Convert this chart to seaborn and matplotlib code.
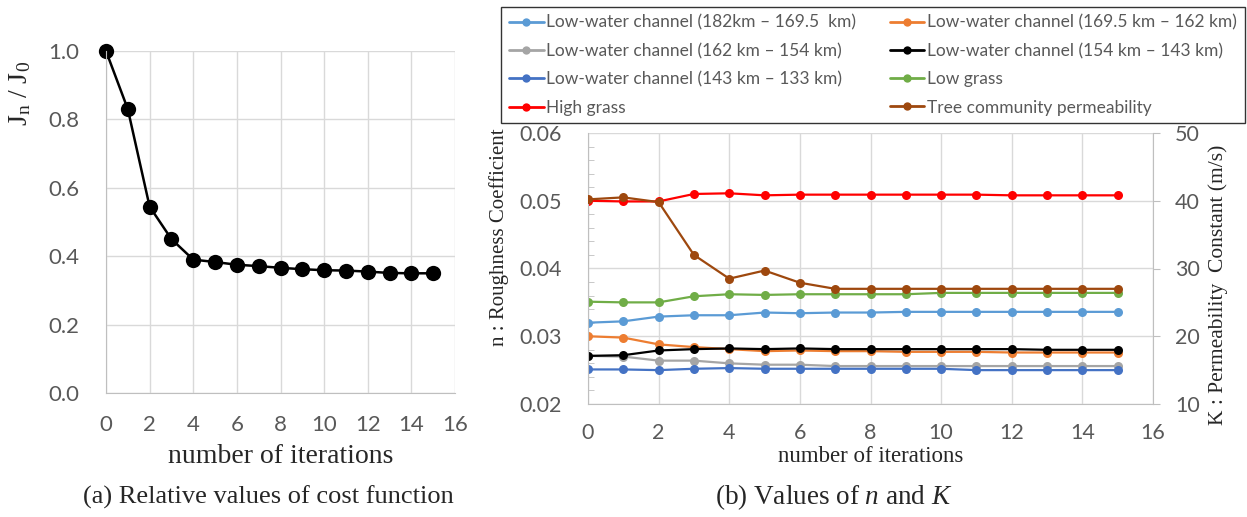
import seaborn as sns
import matplotlib.pyplot as plt
import numpy as np
import pandas as pd
from matplotlib.lines import Line2D
from matplotlib.ticker import MultipleLocator

# Datos
iterations = list(range(16))

cost_ratio = [1.0, 0.83, 0.545, 0.45, 0.39, 0.383, 0.375, 0.371, 0.366, 0.362,
              0.359, 0.358, 0.355, 0.351, 0.350, 0.350]

lw_182_1695 = [0.0320, 0.0322, 0.0329, 0.0331, 0.0331, 0.0335, 0.0334, 0.0335,
               0.0335, 0.0336, 0.0336, 0.0336, 0.0336, 0.0336, 0.0336, 0.0336]
lw_1695_162 = [0.0300, 0.0298, 0.0288, 0.0284, 0.0281, 0.0278, 0.0279, 0.0278,
               0.0278, 0.0277, 0.0277, 0.0277, 0.0276, 0.0276, 0.0276, 0.0276]
lw_162_154 = [0.0271, 0.0270, 0.0264, 0.0264, 0.0260, 0.0258, 0.0258, 0.0256,
              0.0256, 0.0256, 0.0256, 0.0256, 0.0256, 0.0256, 0.0256, 0.0256]
lw_154_143 = [0.0271, 0.0272, 0.0279, 0.0281, 0.0282, 0.0281, 0.0282, 0.0281,
              0.0281, 0.0281, 0.0281, 0.0281, 0.0281, 0.0280, 0.0280, 0.0280]
lw_143_133 = [0.0251, 0.0251, 0.0250, 0.0252, 0.0253, 0.0252, 0.0252, 0.0252,
              0.0252, 0.0252, 0.0252, 0.0250, 0.0250, 0.0250, 0.0250, 0.0250]
low_grass = [0.0351, 0.0350, 0.0350, 0.0359, 0.0362, 0.0361, 0.0362, 0.0362,
             0.0362, 0.0362, 0.0364, 0.0364, 0.0364, 0.0364, 0.0364, 0.0364]
high_grass = [0.0500, 0.0499, 0.0499, 0.0510, 0.0511, 0.0508, 0.0509, 0.0509,
              0.0509, 0.0509, 0.0509, 0.0509, 0.0508, 0.0508, 0.0508, 0.0508]
tree_K = [40.2, 40.5, 39.8, 32.0, 28.5, 29.7, 27.9, 27.0, 27.0, 27.0,
          27.0, 27.0, 27.0, 27.0, 27.0, 27.0]

series_names = ["Low-water channel (182km \u2013 169.5  km)",
                "Low-water channel (169.5 km \u2013 162 km)",
                "Low-water channel (162 km \u2013 154 km)",
                "Low-water channel (154 km \u2013 143 km)",
                "Low-water channel (143 km \u2013 133 km)",
                "Low grass",
                "High grass"]
tree_name = "Tree community permeability"
series_colors = ["#5B9BD5", "#ED7D31", "#A5A5A5", "#000000", "#4472C4",
                 "#70AD47", "#FF0000"]
tree_color = "#9E480E"

# Estilo
sns.set_style("white")
plt.rcParams['font.family'] = ['Lato', 'DejaVu Sans']
plt.rcParams['mathtext.fontset'] = 'custom'
plt.rcParams['mathtext.rm'] = 'Liberation Serif'
plt.rcParams['mathtext.it'] = 'Liberation Serif:italic'
serif = ['Liberation Serif', 'DejaVu Serif']
grid_c = "#D9D9D9"
tick_c = "#595959"

fig = plt.figure(figsize=(12.47, 5.17), dpi=100)

# Parte (a): funcion de coste
ax1 = fig.add_axes([106/1247, 1-393/517, 349/1247, 342/517])
df_a = pd.DataFrame({"iter": iterations, "J": cost_ratio})
sns.lineplot(data=df_a, x="iter", y="J", ax=ax1, color="black", linewidth=1.8,
             marker="o", markersize=11, markeredgewidth=0, clip_on=False)
ax1.set_xlim(0, 16)
ax1.set_ylim(0, 1.0)
ax1.xaxis.set_major_locator(MultipleLocator(2))
ax1.xaxis.set_minor_locator(MultipleLocator(1))
ax1.yaxis.set_major_locator(MultipleLocator(0.2))
ax1.yaxis.set_minor_locator(MultipleLocator(0.05))
ax1.yaxis.set_major_formatter(plt.FormatStrFormatter("%.1f"))
ax1.grid(True, which="major", color=grid_c, linewidth=1)
ax1.set_axisbelow(True)
for s in ["top", "right"]:
    ax1.spines[s].set_visible(False)
for s in ["left", "bottom"]:
    ax1.spines[s].set_color("#BFBFBF")
ax1.tick_params(which="major", length=0, labelsize=16, labelcolor=tick_c)
ax1.tick_params(axis="y", which="major", pad=19)
ax1.tick_params(axis="x", which="major", pad=16)
ax1.tick_params(which="minor", direction="in", length=4, color="#BFBFBF")
ax1.set_xlabel("number of iterations", family=serif, fontsize=20, labelpad=6)
ax1.set_ylabel(r"$\mathrm{J_n}$ / $\mathrm{J_0}$", family=serif, fontsize=20)
ax1.yaxis.set_label_coords(-0.21, 0.875)
fig.text(268/1247, 1-497/517, "(a) Relative values of cost function",
         family=serif, fontsize=19, ha="center", va="center")

# Parte (b): valores de n y K
ax2 = fig.add_axes([588/1247, 1-404/517, 565/1247, 271/517])
n_values = [lw_182_1695, lw_1695_162, lw_162_154, lw_154_143, lw_143_133,
            low_grass, high_grass]
df_b = pd.DataFrame({
    "iter": iterations * len(series_names),
    "n": np.concatenate(n_values),
    "series": np.repeat(series_names, len(iterations)),
})
sns.lineplot(data=df_b, x="iter", y="n", hue="series", hue_order=series_names,
             palette=dict(zip(series_names, series_colors)), ax=ax2,
             linewidth=1.6, marker="o", markersize=6.5, markeredgewidth=0,
             legend=False)
ax2.set_xlim(0, 16)
ax2.set_ylim(0.02, 0.06)
ax2.xaxis.set_major_locator(MultipleLocator(2))
ax2.yaxis.set_major_locator(MultipleLocator(0.01))
ax2.yaxis.set_minor_locator(MultipleLocator(0.002))
ax2.yaxis.set_major_formatter(plt.FormatStrFormatter("%.2f"))
ax2.grid(True, which="major", color=grid_c, linewidth=1)
ax2.set_axisbelow(True)
for s in ["top", "right"]:
    ax2.spines[s].set_visible(False)
for s in ["left", "bottom"]:
    ax2.spines[s].set_color("#BFBFBF")
ax2.tick_params(which="major", length=0, labelsize=15.5, labelcolor=tick_c)
ax2.tick_params(axis="y", which="major", pad=19)
ax2.tick_params(axis="x", which="major", pad=14)
ax2.tick_params(which="minor", direction="in", length=4, color="#BFBFBF")
ax2.set_xlabel("number of iterations", family=serif, fontsize=16.5, labelpad=2)
ax2.set_ylabel("n : Roughness Coefficient", family=serif, fontsize=15)
ax2.yaxis.set_label_coords(-0.14, 0.616)

ax3 = ax2.twinx()
df_t = pd.DataFrame({"iter": iterations, "K": tree_K})
sns.lineplot(data=df_t, x="iter", y="K", ax=ax3, color=tree_color,
             linewidth=1.6, marker="o", markersize=6.5, markeredgewidth=0)
ax3.set_ylim(10, 50)
ax3.yaxis.set_major_locator(MultipleLocator(10))
for s in ["top", "left", "bottom"]:
    ax3.spines[s].set_visible(False)
ax3.spines["right"].set_color("#BFBFBF")
ax3.tick_params(axis="y", length=5, color="#BFBFBF", labelsize=15.5,
                labelcolor=tick_c, pad=11)
ax3.set_ylabel("K : Permeability  Constant (m/s)", family=serif, fontsize=15.5)
ax3.yaxis.set_label_coords(1.097, 0.44)

fig.text(834/1247, 1-497/517, r"(b) Values of $\it{n}$ and $\it{K}$",
         family=serif, fontsize=19.5, ha="center", va="center")

# Leyenda en dos columnas (orden por filas)
handles = {}
for name, c in zip(series_names + [tree_name], series_colors + [tree_color]):
    handles[name] = Line2D([], [], color=c, linewidth=2, marker="o",
                           markersize=6, markeredgewidth=0)
order = [series_names[0], series_names[2], series_names[4], series_names[6],
         series_names[1], series_names[3], series_names[5], tree_name]
leg = fig.legend([handles[k] for k in order], order, ncol=2,
                 loc="upper left", mode="expand",
                 bbox_to_anchor=(501/1247, 1-118/517, 744/1247, 111/517),
                 fontsize=12.5, frameon=True, fancybox=False, handlelength=2.0,
                 handletextpad=0.17, labelspacing=0.7, borderpad=0.45,
                 borderaxespad=0, labelcolor=tick_c)
leg.get_frame().set_edgecolor("black")
leg.get_frame().set_linewidth(1)

plt.savefig("out.png", dpi=100)
